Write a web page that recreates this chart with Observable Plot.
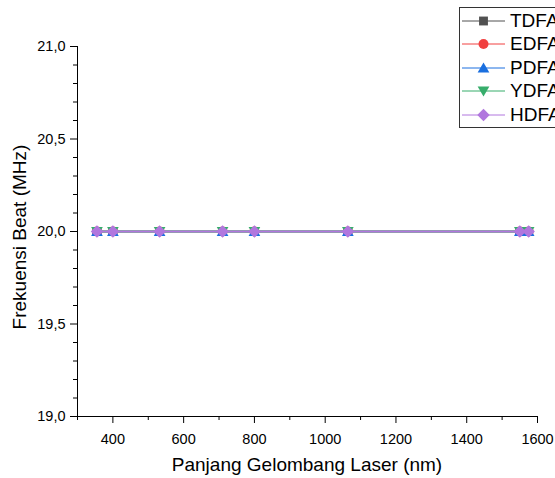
<!DOCTYPE html>
<html><head><meta charset="utf-8">
<script src="https://cdn.jsdelivr.net/npm/d3@7"></script>
<script src="https://cdn.jsdelivr.net/npm/@observablehq/plot@0.6"></script>
<style>
body{margin:0;background:#fff;overflow:hidden;width:555px;height:478px;position:relative;font-family:Arial,"Liberation Sans",sans-serif}
#chart{position:absolute;left:0;top:0}
#legend{position:absolute;left:459px;top:7px;width:120px;height:121px;border:1px solid #333;background:#fff;box-sizing:border-box}
.row{position:absolute;left:0;height:24px;line-height:24px;font-size:19px;color:#000;white-space:nowrap}
.row svg{position:absolute;left:0;top:0}
.row span{position:absolute;left:50px;top:0}
</style></head><body><div id="chart"></div><div id="legend"></div>
<script>
const wavelengths = [355, 400, 532, 710, 800, 1064, 1550, 1575];
const seriesNames = ["TDFA", "EDFA", "PDFA", "YDFA", "HDFA"];
const tdfaValues = [20, 20, 20, 20, 20, 20, 20, 20];
const edfaValues = [20, 20, 20, 20, 20, 20, 20, 20];
const pdfaValues = [20, 20, 20, 20, 20, 20, 20, 20];
const ydfaValues = [20, 20, 20, 20, 20, 20, 20, 20];
const hdfaValues = [20, 20, 20, 20, 20, 20, 20, 20];
const seriesColors = ["#515151", "#F14040", "#1A6FDF", "#37AD6B", "#B177DE"];
const xTicks = [400, 600, 800, 1000, 1200, 1400, 1600];
const xMinorTicks = [300, 500, 700, 900, 1100, 1300, 1500];
const yTicks = [19, 19.5, 20, 20.5, 21];
const yMinorTicks = [19.1, 19.2, 19.3, 19.4, 19.6, 19.7, 19.8, 19.9, 20.1, 20.2, 20.3, 20.4, 20.6, 20.7, 20.8, 20.9];
const xTitle = "Panjang Gelombang Laser (nm)";
const yTitle = "Frekuensi Beat (MHz)";

const allValues = [tdfaValues, edfaValues, pdfaValues, ydfaValues, hdfaValues];

// marker shapes (d3-symbol-like objects)
const symSquare = {draw(c, size){ const s = Math.sqrt(size) / 2; c.rect(-s, -s, 2*s, 2*s); }};
const symCircle = {draw(c, size){ const r = Math.sqrt(size / Math.PI); c.moveTo(r, 0); c.arc(0, 0, r, 0, 2*Math.PI); }};
const symTriUp = {draw(c, size){ const a = Math.sqrt(size) * 0.66, h = a * Math.sqrt(3); c.moveTo(0, -h*0.55); c.lineTo(a, h*0.45); c.lineTo(-a, h*0.45); c.closePath(); }};
const symTriDown = {draw(c, size){ const a = Math.sqrt(size) * 0.66, h = a * Math.sqrt(3); c.moveTo(0, h*0.55); c.lineTo(a, -h*0.45); c.lineTo(-a, -h*0.45); c.closePath(); }};
const symDiamond = {draw(c, size){ const d = Math.sqrt(size) * 0.7; c.moveTo(0, -d); c.lineTo(d, 0); c.lineTo(0, d); c.lineTo(-d, 0); c.closePath(); }};
const symbols = [symSquare, symCircle, symTriUp, symTriDown, symDiamond];

const rows = [];
seriesNames.forEach((name, i) => {
  wavelengths.forEach((w, j) => rows.push({series: name, idx: i, x: w, y: allValues[i][j]}));
});

const fmt = d => d.toFixed(1).replace(".", ",");

const marks = [
  Plot.ruleY([19], {stroke: "#000", strokeWidth: 1}),
  Plot.ruleX([300], {stroke: "#000", strokeWidth: 1}),
  Plot.axisX({ticks: xMinorTicks, tickSize: 4, text: null, label: null, stroke: "#000"}),
  Plot.axisX({ticks: xTicks, tickSize: 7, tickPadding: 10, tickFormat: d => String(d), stroke: "#000", fill: "#000", label: null}),
  Plot.axisY({ticks: yMinorTicks, tickSize: 4, text: null, label: null, stroke: "#000"}),
  Plot.axisY({ticks: yTicks, tickSize: 7, tickPadding: 5, tickFormat: fmt, stroke: "#000", fill: "#000", label: null})
];
seriesNames.forEach((name, i) => {
  const data = rows.filter(r => r.series === name);
  marks.push(Plot.line(data, {x: "x", y: "y", stroke: seriesColors[i], strokeWidth: 1.5}));
  marks.push(Plot.dot(data, {x: "x", y: "y", fill: seriesColors[i], stroke: "none", r: 5, symbol: () => symbols[i]}));
});

const plot = Plot.plot({
  width: 555, height: 478,
  marginLeft: 77, marginRight: 18, marginTop: 46, marginBottom: 62,
  style: {fontFamily: "Arial, 'Liberation Sans', sans-serif", fontSize: "14.5px", color: "#000", background: "#fff", overflow: "visible"},
  x: {domain: [300, 1600]},
  y: {domain: [19, 21]},
  symbol: {type: "identity"},
  marks
});
// tick label styling
plot.querySelectorAll("g[aria-label='x-axis tick label'] text, g[aria-label='y-axis tick label'] text").forEach(t => {
  t.style.fontSize = "14.5px";
  t.style.fontVariant = "normal";
  t.setAttribute("fill", "#000");
});
// axis titles
const svgSel = d3.select(plot);
const xs = plot.scale("x");
const xMid = (xs.apply(300) + xs.apply(1600)) / 2;
svgSel.append("text").attr("x", xMid).attr("y", 471).attr("text-anchor", "middle")
  .style("font-size", "19px").attr("fill", "#000").text(xTitle);
svgSel.append("text").attr("transform", `translate(26,237) rotate(-90)`).attr("text-anchor", "middle")
  .style("font-size", "19px").attr("fill", "#000").text(yTitle);
document.getElementById("chart").appendChild(plot);

// legend
const legend = document.getElementById("legend");
seriesNames.forEach((name, i) => {
  const row = document.createElement("div");
  row.className = "row";
  row.style.top = (0.7 + i * 23.5) + "px";
  row.style.width = "118px";
  const svg = d3.create("svg").attr("width", 48).attr("height", 24);
  svg.append("line").attr("x1", 2).attr("x2", 45).attr("y1", 12).attr("y2", 12).attr("stroke", seriesColors[i]).attr("stroke-width", 1);
  const p = d3.path();
  symbols[i].draw(p, Math.PI * 25);
  svg.append("path").attr("d", p.toString()).attr("transform", "translate(23.5,12)").attr("fill", seriesColors[i]);
  row.appendChild(svg.node());
  const span = document.createElement("span");
  span.textContent = name;
  row.appendChild(span);
  legend.appendChild(row);
});
</script></body></html>
